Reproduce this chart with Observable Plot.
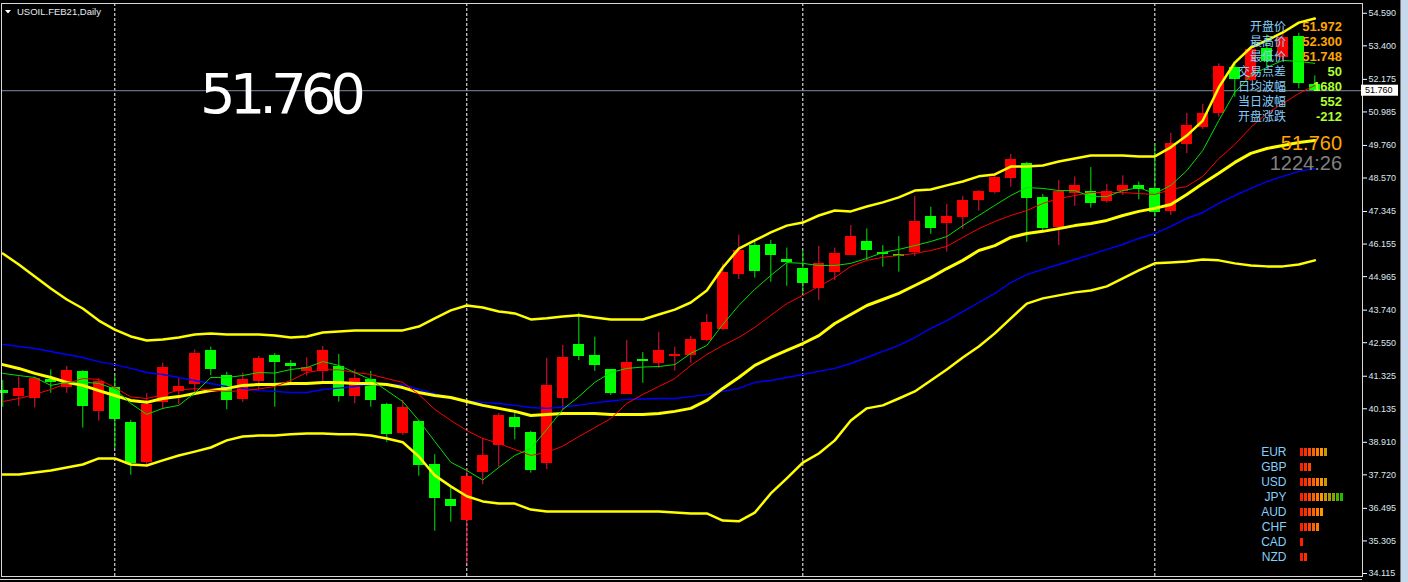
<!DOCTYPE html>
<html><head><meta charset="utf-8">
<script src="https://cdn.jsdelivr.net/npm/d3@7"></script>
<script src="https://cdn.jsdelivr.net/npm/@observablehq/plot@0.6"></script>
<style>
html,body{margin:0;padding:0;background:#000;overflow:hidden}
#wrap{position:relative;width:1408px;height:582px;background:#000}
#chart svg{display:block}
#cur{position:absolute;left:1250px;top:444px}
#scroll{position:absolute;left:1400px;top:0;width:8px;height:582px;background:#c6d8ec;border-left:1px solid #7a7a7a;box-sizing:border-box}
</style></head>
<body><div id="wrap"><div id="chart"></div><div id="cur"></div><div id="scroll"></div></div>
<script>
// ---- OHLC (USOIL.FEB21, Daily) ----
const opens = [40.80,40.58,40.52,41.19,40.90,41.50,40.05,40.90,39.63,38.18,
 40.38,40.77,41.02,42.27,41.35,40.47,41.13,42.08,41.80,41.51,
 41.51,41.68,40.60,41.19,40.29,39.24,39.67,38.10,36.82,36.06,
 37.82,38.79,39.81,39.27,38.15,40.52,42.49,42.08,41.57,40.66,
 41.95,41.80,42.06,42.09,42.63,43.03,45.04,46.11,46.14,45.58,
 45.26,44.54,45.13,45.75,46.25,45.86,45.77,45.86,47.16,46.92,
 47.14,47.75,48.05,48.56,49.09,47.86,46.77,48.02,48.08,47.72,
 48.08,48.30,48.19,47.36,49.81,50.43,50.92,52.60,52.13,53.32,
 52.97,53.74,51.972];
const highs = [41.17,41.29,41.29,41.56,41.68,41.53,41.23,41.35,39.71,40.69,
 41.80,41.25,42.29,42.39,41.47,41.44,42.05,42.15,41.90,42.00,
 42.41,42.12,41.56,41.50,40.34,40.44,39.71,38.46,37.29,37.94,
 39.06,39.97,40.01,39.31,41.98,42.45,43.63,42.75,41.57,42.63,
 42.19,42.93,42.39,42.78,43.58,45.43,46.48,46.29,46.29,46.01,
 45.92,46.07,46.01,46.83,46.71,46.10,46.43,47.89,47.50,47.60,
 47.89,48.11,48.72,49.43,49.14,47.97,48.48,48.61,48.95,48.34,
 48.65,48.42,49.82,50.20,50.93,51.26,52.74,52.72,53.35,53.80,
 53.90,53.86,52.300];
const lows = [40.19,40.22,40.17,40.70,40.70,39.43,39.68,38.67,37.71,38.03,
 40.10,40.29,40.70,41.35,40.10,40.37,40.83,40.19,40.99,41.33,
 41.11,40.38,40.32,40.19,38.91,39.16,37.67,35.66,35.99,34.47,
 37.36,38.00,39.00,37.78,37.91,40.07,41.90,41.50,40.62,40.66,
 41.07,41.60,41.51,41.80,42.59,43.00,44.86,44.91,44.76,44.61,
 44.31,44.09,44.82,45.74,45.56,45.31,45.13,45.70,46.51,45.86,
 46.69,47.36,47.99,48.23,46.22,46.62,46.10,47.54,47.47,47.65,
 47.93,47.77,47.14,47.20,49.46,50.34,50.79,51.52,52.10,52.56,
 52.87,51.83,51.748];
const closes = [40.70,40.87,41.23,41.11,41.53,40.22,41.14,39.75,38.15,40.29,
 41.63,40.95,42.17,41.57,40.44,41.21,41.97,41.84,41.69,41.63,
 42.27,40.60,41.24,40.44,39.20,40.18,38.06,36.87,36.58,37.66,
 38.42,39.89,39.46,37.89,40.99,42.01,42.06,41.72,40.68,41.83,
 41.87,42.27,42.12,42.67,43.29,45.13,45.92,45.16,45.74,45.49,
 44.73,45.43,45.81,46.43,45.92,45.79,45.70,46.98,46.74,47.16,
 47.75,48.08,48.59,49.25,47.83,46.74,48.09,48.30,47.65,48.09,
 48.30,48.16,47.32,49.83,50.49,50.92,52.65,52.16,53.26,52.81,
 53.71,52.04,51.760];

// ---- Bollinger bands (yellow) ----
const bbUpper = [45.81,45.41,44.97,44.53,44.13,43.80,43.36,43.03,42.78,42.63,
 42.67,42.74,42.85,42.89,42.85,42.85,42.85,42.81,42.74,42.78,
 42.92,42.96,43.00,43.00,43.00,43.00,43.14,43.44,43.73,43.91,
 43.84,43.69,43.62,43.40,43.44,43.51,43.55,43.47,43.40,43.40,
 43.40,43.58,43.76,44.02,44.46,45.30,45.99,46.29,46.58,46.83,
 46.94,47.20,47.38,47.35,47.53,47.68,47.86,48.11,48.15,48.30,
 48.44,48.63,48.70,48.99,48.99,49.03,49.17,49.28,49.39,49.39,
 49.39,49.36,49.36,49.69,50.12,50.67,51.88,52.79,53.34,53.60,
 53.89,54.25,54.40];
const bbMiddle = [41.75,41.61,41.43,41.28,41.10,40.99,40.80,40.62,40.44,40.37,
 40.51,40.58,40.69,40.80,40.88,40.99,41.02,41.02,41.06,41.06,
 41.10,41.10,41.06,41.06,41.02,40.91,40.73,40.62,40.55,40.40,
 40.26,40.15,40.04,39.89,39.93,39.96,39.96,39.96,39.93,39.93,
 39.93,39.96,40.04,40.15,40.44,40.88,41.28,41.72,42.01,42.27,
 42.52,42.81,43.25,43.58,43.91,44.13,44.35,44.64,44.93,45.26,
 45.56,45.92,46.10,46.40,46.54,46.62,46.72,46.83,46.91,47.02,
 47.20,47.35,47.46,47.60,47.97,48.37,48.74,49.14,49.47,49.65,
 49.76,49.87,49.94];
const bbLower = [37.73,37.73,37.81,37.88,37.99,38.10,38.32,38.32,38.10,38.06,
 38.25,38.43,38.57,38.72,38.98,39.12,39.16,39.16,39.20,39.23,
 39.23,39.20,39.20,39.16,39.05,38.91,38.39,37.70,37.30,36.94,
 36.75,36.67,36.67,36.45,36.38,36.38,36.38,36.38,36.38,36.38,
 36.38,36.38,36.34,36.31,36.31,36.05,36.02,36.34,37.04,37.59,
 38.17,38.50,38.98,39.71,40.15,40.26,40.51,40.77,41.17,41.57,
 42.01,42.41,42.89,43.44,43.98,44.17,44.28,44.39,44.46,44.61,
 44.90,45.19,45.45,45.48,45.52,45.59,45.56,45.45,45.37,45.34,
 45.34,45.41,45.56];

// ---- Moving averages ----
const maBlue = [42.49,42.41,42.34,42.23,42.12,42.01,41.86,41.75,41.61,41.46,
 41.39,41.28,41.17,41.06,40.95,40.88,40.80,40.77,40.73,40.73,
 40.84,40.89,40.95,41.02,41.02,41.02,40.84,40.69,40.51,40.42,
 40.37,40.33,40.26,40.18,40.15,40.20,40.27,40.35,40.42,40.48,
 40.49,40.51,40.51,40.58,40.66,40.77,40.88,41.10,41.17,41.28,
 41.39,41.50,41.61,41.79,42.01,42.23,42.45,42.74,43.07,43.36,
 43.69,44.02,44.35,44.75,45.04,45.23,45.41,45.59,45.77,45.96,
 46.14,46.36,46.54,46.80,47.09,47.31,47.64,47.93,48.19,48.44,
 48.63,48.81,48.92];
const maRed = [40.40,40.51,40.66,40.84,41.06,41.24,41.21,40.91,40.57,40.51,
 40.64,40.82,40.87,40.82,40.77,40.79,40.86,40.95,41.17,41.46,
 41.56,41.56,41.46,41.39,41.24,41.10,40.66,40.11,39.71,39.34,
 39.05,38.87,38.65,38.43,38.54,38.77,39.12,39.45,39.78,40.33,
 40.66,40.95,41.24,41.72,42.12,42.45,42.74,43.11,43.55,43.98,
 44.28,44.61,44.93,45.34,45.56,45.67,45.74,45.81,45.92,46.07,
 46.40,46.72,46.98,47.20,47.38,47.64,47.82,47.93,48.04,48.04,
 48.04,48.00,47.97,48.15,48.26,48.63,49.28,49.79,50.42,50.93,
 51.29,51.66,51.95];
const maGreen = [41.43,41.35,41.28,40.99,41.10,41.11,41.06,40.86,40.33,39.93,
 40.15,40.26,40.71,41.28,41.28,41.35,41.46,41.44,41.57,41.64,
 41.86,41.72,41.46,41.20,40.80,40.40,39.71,38.94,38.18,37.88,
 37.53,37.99,38.43,38.68,39.38,40.11,40.58,41.10,41.46,41.61,
 41.66,41.68,41.75,42.16,42.45,43.22,43.91,44.50,45.01,45.48,
 45.45,45.37,45.37,45.45,45.63,45.85,45.96,46.10,46.25,46.43,
 46.83,47.20,47.57,47.93,48.22,48.19,48.11,48.11,47.89,47.89,
 48.11,48.22,48.00,48.30,48.84,49.58,50.67,51.70,52.32,52.61,
 52.87,52.83,52.76];

// ---- Axis / grid ----
const priceTicks = [34.115,35.305,36.495,37.720,38.910,40.135,41.325,42.550,43.740,44.965,46.155,47.345,48.570,49.760,50.985,52.175,53.400,54.590];
const periodStarts = [7,29,50,72];

// ---- Info panel ----
const infoLabels = ["开盘价","最高价","最低价","交易点差","日均波幅","当日波幅","开盘涨跌"];
const spreadPts = 50;
const avgDailyRange = 1680;
const timerText = "1224:26";
const symbolTitle = "USOIL.FEB21,Daily";

// ---- Currency strength ----
const currencies = ["EUR","GBP","USD","JPY","AUD","CHF","CAD","NZD"];
const strengths = [7,3,7,11,6,5,1,2];
const strengthPalette = ["#ff1e00","#ff3000","#ff4800","#ff6200","#ff7c00","#ff9800","#c89c00","#a89c00","#88a400","#4cb000","#22bc00"];

const N = opens.length;
const idx = d3.range(N);
const candles = idx.map(i => ({i, o: opens[i], h: highs[i], l: lows[i], c: closes[i], up: closes[i] >= opens[i]}));
const last = candles[N - 1];
const f3 = d3.format(".3f");

const line = (arr, stroke, sw) => Plot.line(idx, {x: i => i, y: i => arr[i], stroke, strokeWidth: sw, curve: "linear"});

const plot = Plot.plot({
  width: 1408, height: 582,
  marginLeft: 1, marginRight: 46, marginTop: 3, marginBottom: 6,
  style: {background: "#000", color: "#dfe6ee", fontFamily: "'Liberation Sans', Arial, sans-serif", fontSize: "9px"},
  x: {type: "linear", domain: [-0.08, 84.98], axis: null},
  y: {type: "linear", domain: [34.005, 54.948], axis: null},
  color: {type: "identity"},
  marks: [
    Plot.ruleX(periodStarts, {stroke: "#ffffff", strokeDasharray: "3,2", strokeWidth: 1}),
    Plot.ruleY([last.c], {stroke: "#7d8ea6", strokeWidth: 1}),
    Plot.ruleX(candles, {x: "i", y1: "l", y2: "h", stroke: d => d.up ? "#f0143c" : "#00e600", strokeWidth: 1}),
    Plot.ruleX(candles, {x: "i", y1: "o", y2: "c", stroke: d => d.up ? "#ff0000" : "#00ff00", strokeWidth: 11, shapeRendering: "crispEdges"}),
    line(bbUpper, "#ffff00", 2.5),
    line(bbLower, "#ffff00", 2.5),
    line(maBlue, "#0000ff", 1.4),
    line(bbMiddle, "#ffff00", 3),
    line(maRed, "#ff0000", 1),
    line(maGreen, "#00e000", 1),
    Plot.frame({stroke: "#d8d8d8"}),
    Plot.axisY({anchor: "right", ticks: priceTicks, tickFormat: f3, tickSize: 4, tickPadding: 2, stroke: "#ffffff", fill: "#dfe6ee", fontSize: 9, label: null})
  ]
});
document.getElementById("chart").appendChild(plot);

const svg = d3.select(plot);
const ys = plot.scale("y");
const yLast = ys.apply(last.c);
const txt = (x, y, anchor, fill, font, s) => svg.append("text").attr("x", x).attr("y", y).attr("dy", "0.36em")
  .attr("text-anchor", anchor).attr("fill", fill).style("font", font).text(s);

// second bottom border line
svg.append("line").attr("x1", 0).attr("x2", 1362).attr("y1", 579.5).attr("y2", 579.5).attr("stroke", "#d8d8d8");

// current price tag on the axis
svg.append("rect").attr("x", 1361).attr("y", yLast - 5.5).attr("width", 37).attr("height", 11).attr("fill", "#fff");
txt(1365, yLast, "start", "#000", "9px 'Liberation Sans', Arial", f3(last.c));

// title
svg.append("path").attr("d", "M5,10 L11,10 L8,13.5 Z").attr("fill", "#fff");
svg.append("text").attr("x", 17).attr("y", 15).attr("text-anchor", "start").attr("fill", "#e6ecf3")
  .style("font", "9.5px 'Liberation Sans', Arial").text(symbolTitle);

// big price
svg.append("text").attr("x", 200).attr("y", 113.3).attr("text-anchor", "start").attr("fill", "#fff")
  .style("font", "56px 'DejaVu Sans'").style("letter-spacing", "-6px").text(f3(last.c));

// info panel
const infoValues = [f3(last.o), f3(last.h), f3(last.l), String(spreadPts), String(avgDailyRange),
  String(Math.round((last.h - last.l) * 1000)), String(Math.round((last.c - last.o) * 1000))];
const infoColors = ["#ffa500","#ffa500","#ffa500","#adff2f","#adff2f","#adff2f","#adff2f"];
infoLabels.forEach((lab, j) => {
  const yy = 26.7 + 15 * j;
  txt(1286, yy, "end", "#87cefa", "12px 'Noto Sans CJK SC'", lab);
  txt(1342, yy, "end", infoColors[j], "bold 13px 'Liberation Sans', Arial", infoValues[j]);
});
txt(1342, 142.5, "end", "#ffa500", "20px 'Liberation Sans', Arial", f3(last.c));
txt(1342, 162.5, "end", "#808080", "20px 'Liberation Sans', Arial", timerText);

// currency strength panel
const cells = currencies.flatMap((c, j) => d3.range(strengths[j]).map(i => ({c, i, color: strengthPalette[i]})));
const cur = Plot.plot({
  width: 100, height: 120,
  marginLeft: 50, marginRight: 4, marginTop: 0, marginBottom: 0,
  style: {background: "transparent", fontFamily: "'Liberation Sans', Arial, sans-serif", fontSize: "12px"},
  x: {type: "band", domain: d3.range(11), paddingInner: 0.32, paddingOuter: 0, align: 0, axis: null},
  y: {type: "band", domain: currencies, paddingInner: 0.47, paddingOuter: 0.235, axis: null},
  color: {type: "identity"},
  marks: [
    Plot.cell(cells, {x: "i", y: "c", fill: "color"}),
    Plot.axisY({anchor: "left", tickSize: 0, tickPadding: 14, fill: "#87cefa", fontSize: 12, label: null})
  ]
});
document.getElementById("cur").appendChild(cur);
</script>
</body></html>
